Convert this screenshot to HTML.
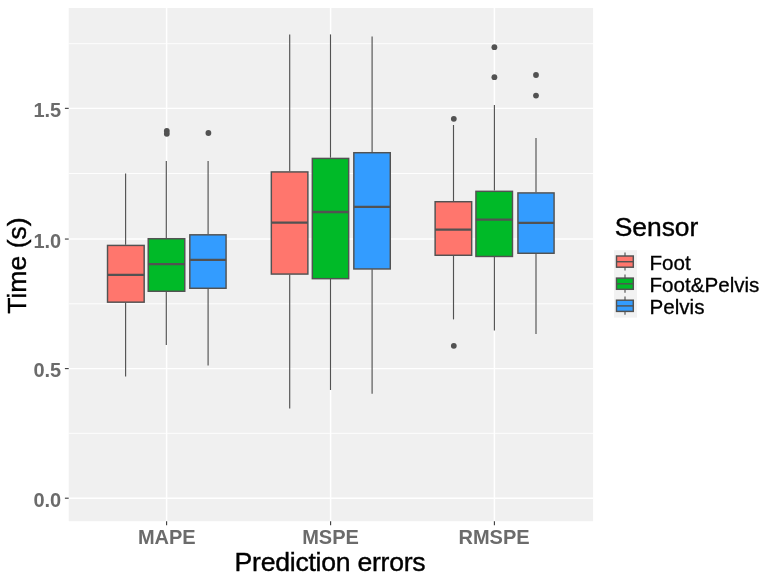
<!DOCTYPE html>
<html lang="en"><head><meta charset="utf-8"><title>Prediction errors boxplot</title>
<style>html,body{margin:0;padding:0;background:#fff}svg{display:block}text{font-family:"Liberation Sans",Arial,Helvetica,sans-serif}</style>
</head><body>
<svg width="765" height="580" viewBox="0 0 765 580">
<rect x="0" y="0" width="765" height="580" fill="#fff"/>
<rect x="68.7" y="8.0" width="524.4" height="513.2" fill="#F0F0F0"/>
<g stroke="#fff" stroke-width="0.9">
<line x1="68.7" x2="593.1" y1="43.7" y2="43.7"/>
<line x1="68.7" x2="593.1" y1="173.5" y2="173.5"/>
<line x1="68.7" x2="593.1" y1="303.8" y2="303.8"/>
<line x1="68.7" x2="593.1" y1="433.3" y2="433.3"/>
</g><g stroke="#fff" stroke-width="1.45">
<line x1="68.7" x2="593.1" y1="108.35" y2="108.35"/>
<line x1="68.7" x2="593.1" y1="239.05" y2="239.05"/>
<line x1="68.7" x2="593.1" y1="368.6" y2="368.6"/>
<line x1="68.7" x2="593.1" y1="498.2" y2="498.2"/>
<line x1="166.6" x2="166.6" y1="8.0" y2="521.2"/>
<line x1="330.6" x2="330.6" y1="8.0" y2="521.2"/>
<line x1="494.4" x2="494.4" y1="8.0" y2="521.2"/>
</g>
<g stroke="#525252">
<line x1="125.6" x2="125.6" y1="173.6" y2="244.7" stroke-width="1.15"/>
<line x1="125.6" x2="125.6" y1="302.5" y2="376.4" stroke-width="1.15"/>
<rect x="107.52" y="245.42" width="36.65" height="56.75" fill="#FF766D" stroke-width="1.45"/>
<line x1="107.52" x2="144.18" y1="274.9" y2="274.9" stroke-width="2.3"/>
</g>
<g stroke="#525252">
<circle cx="166.8" cy="131.0" r="2.9" fill="#525252" stroke="none"/>
<circle cx="166.8" cy="133.8" r="2.9" fill="#525252" stroke="none"/>
<line x1="166.3" x2="166.3" y1="161.0" y2="238.0" stroke-width="1.15"/>
<line x1="166.3" x2="166.3" y1="291.6" y2="345.0" stroke-width="1.15"/>
<rect x="148.22" y="238.72" width="36.55" height="52.55" fill="#00BA28" stroke-width="1.45"/>
<line x1="148.22" x2="184.78" y1="264.1" y2="264.1" stroke-width="2.3"/>
</g>
<g stroke="#525252">
<circle cx="208.4" cy="133.0" r="2.9" fill="#525252" stroke="none"/>
<line x1="208.1" x2="208.1" y1="161.0" y2="234.1" stroke-width="1.15"/>
<line x1="208.1" x2="208.1" y1="288.6" y2="365.6" stroke-width="1.15"/>
<rect x="189.82" y="234.82" width="36.25" height="53.45" fill="#339CFF" stroke-width="1.45"/>
<line x1="189.82" x2="226.08" y1="259.8" y2="259.8" stroke-width="2.3"/>
</g>
<g stroke="#525252">
<line x1="289.7" x2="289.7" y1="34.4" y2="171.2" stroke-width="1.15"/>
<line x1="289.7" x2="289.7" y1="274.4" y2="408.4" stroke-width="1.15"/>
<rect x="271.33" y="171.92" width="36.55" height="102.15" fill="#FF766D" stroke-width="1.45"/>
<line x1="271.33" x2="307.88" y1="222.7" y2="222.7" stroke-width="2.3"/>
</g>
<g stroke="#525252">
<line x1="330.5" x2="330.5" y1="34.4" y2="157.7" stroke-width="1.15"/>
<line x1="330.5" x2="330.5" y1="279.0" y2="390.0" stroke-width="1.15"/>
<rect x="312.33" y="158.42" width="36.35" height="120.25" fill="#00BA28" stroke-width="1.45"/>
<line x1="312.33" x2="348.67" y1="212.0" y2="212.0" stroke-width="2.3"/>
</g>
<g stroke="#525252">
<line x1="372.1" x2="372.1" y1="36.4" y2="152.0" stroke-width="1.15"/>
<line x1="372.1" x2="372.1" y1="269.3" y2="393.8" stroke-width="1.15"/>
<rect x="353.83" y="152.72" width="36.45" height="116.25" fill="#339CFF" stroke-width="1.45"/>
<line x1="353.83" x2="390.27" y1="206.8" y2="206.8" stroke-width="2.3"/>
</g>
<g stroke="#525252">
<circle cx="453.8" cy="118.8" r="2.9" fill="#525252" stroke="none"/>
<circle cx="453.8" cy="345.8" r="2.9" fill="#525252" stroke="none"/>
<line x1="453.5" x2="453.5" y1="125.0" y2="201.0" stroke-width="1.15"/>
<line x1="453.5" x2="453.5" y1="255.6" y2="319.4" stroke-width="1.15"/>
<rect x="435.12" y="201.72" width="36.55" height="53.55" fill="#FF766D" stroke-width="1.45"/>
<line x1="435.12" x2="471.67" y1="229.6" y2="229.6" stroke-width="2.3"/>
</g>
<g stroke="#525252">
<circle cx="494.4" cy="47.2" r="2.9" fill="#525252" stroke="none"/>
<circle cx="494.4" cy="77.2" r="2.9" fill="#525252" stroke="none"/>
<line x1="494.4" x2="494.4" y1="105.0" y2="190.6" stroke-width="1.15"/>
<line x1="494.4" x2="494.4" y1="256.8" y2="330.6" stroke-width="1.15"/>
<rect x="475.93" y="191.32" width="36.55" height="65.15" fill="#00BA28" stroke-width="1.45"/>
<line x1="475.93" x2="512.48" y1="219.7" y2="219.7" stroke-width="2.3"/>
</g>
<g stroke="#525252">
<circle cx="536.0" cy="75.0" r="2.9" fill="#525252" stroke="none"/>
<circle cx="536.0" cy="95.6" r="2.9" fill="#525252" stroke="none"/>
<line x1="536.0" x2="536.0" y1="138.0" y2="192.2" stroke-width="1.15"/>
<line x1="536.0" x2="536.0" y1="253.6" y2="334.0" stroke-width="1.15"/>
<rect x="517.93" y="192.92" width="36.15" height="60.35" fill="#339CFF" stroke-width="1.45"/>
<line x1="517.93" x2="554.07" y1="222.9" y2="222.9" stroke-width="2.3"/>
</g>
<g stroke="#3a3a3a" stroke-width="1.1">
<line x1="64.9" x2="68.7" y1="108.35" y2="108.35"/>
<line x1="64.9" x2="68.7" y1="239.05" y2="239.05"/>
<line x1="64.9" x2="68.7" y1="368.6" y2="368.6"/>
<line x1="64.9" x2="68.7" y1="498.2" y2="498.2"/>
<line x1="166.6" x2="166.6" y1="521.2" y2="525.3"/>
<line x1="330.6" x2="330.6" y1="521.2" y2="525.3"/>
<line x1="494.4" x2="494.4" y1="521.2" y2="525.3"/>
</g>
<g font-size="20" font-weight="bold" fill="#6b6b6b" text-anchor="end">
<text x="61.2" y="116.9">1.5</text>
<text x="61.2" y="247.7">1.0</text>
<text x="61.2" y="377.2">0.5</text>
<text x="61.2" y="506.8">0.0</text>
</g>
<g font-size="20" font-weight="bold" fill="#6b6b6b" text-anchor="middle">
<text x="166.8" y="544.4">MAPE</text>
<text x="330.5" y="544.4">MSPE</text>
<text x="494.0" y="544.4">RMSPE</text>
</g>
<text x="330.0" y="571" font-size="26.6" letter-spacing="-0.25" text-anchor="middle" fill="#000" stroke="#000" stroke-width="0.4">Prediction errors</text>
<text transform="translate(26.3,265.6) rotate(-90)" font-size="26.6" text-anchor="middle" fill="#000" stroke="#000" stroke-width="0.4">Time (s)</text>
<text x="614.7" y="235.7" font-size="26.4" fill="#000" stroke="#000" stroke-width="0.4">Sensor</text>
<rect x="614" y="250.2" width="23" height="67.4" fill="#F2F2F2"/>
<g stroke="#525252">
<line x1="625" x2="625" y1="252.4" y2="270.6" stroke-width="1.15"/>
<rect x="616.5" y="256.0" width="16.8" height="11.2" fill="#FF766D" stroke-width="1.45"/>
<line x1="616.5" x2="633.3" y1="261.7" y2="261.7" stroke-width="1.45"/>
</g>
<text x="649.5" y="269.7" font-size="20.6" fill="#000" stroke="#000" stroke-width="0.3">Foot</text>
<g stroke="#525252">
<line x1="625" x2="625" y1="274.5" y2="292.7" stroke-width="1.15"/>
<rect x="616.5" y="278.1" width="16.8" height="11.2" fill="#00BA28" stroke-width="1.45"/>
<line x1="616.5" x2="633.3" y1="283.8" y2="283.8" stroke-width="1.45"/>
</g>
<text x="649.5" y="292.1" font-size="20.6" fill="#000" stroke="#000" stroke-width="0.3">Foot&amp;Pelvis</text>
<g stroke="#525252">
<line x1="625" x2="625" y1="296.6" y2="314.8" stroke-width="1.15"/>
<rect x="616.5" y="300.2" width="16.8" height="11.2" fill="#339CFF" stroke-width="1.45"/>
<line x1="616.5" x2="633.3" y1="305.9" y2="305.9" stroke-width="1.45"/>
</g>
<text x="649.5" y="314.4" font-size="20.6" fill="#000" stroke="#000" stroke-width="0.3">Pelvis</text>
</svg></body></html>
